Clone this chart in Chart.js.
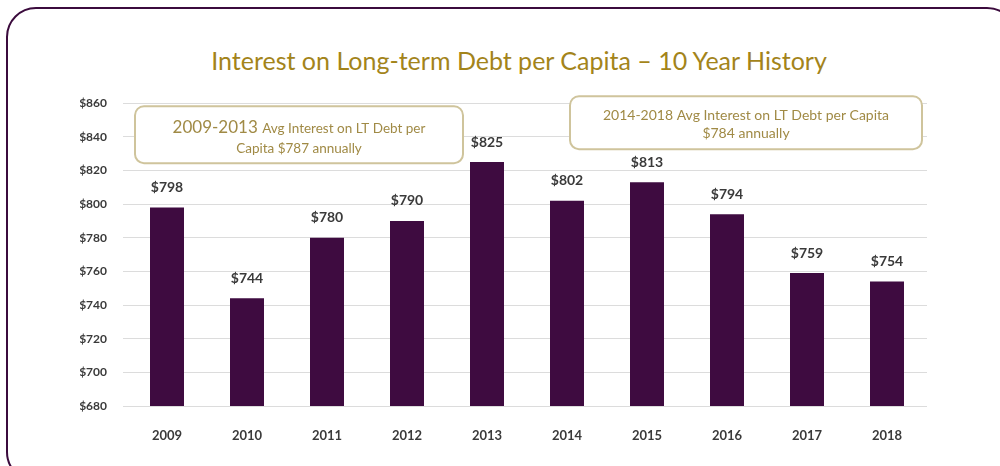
<!DOCTYPE html>
<html lang="en">
<head>
    <meta charset="UTF-8">
    <title>Interest on Long-term Debt per Capita</title>
    <script src="https://cdn.jsdelivr.net/npm/chart.js"></script>
    <style>
        body { margin: 0; background: #fff; width: 1000px; height: 466px; overflow: hidden; position: relative; }
        .frame { position: absolute; left: 6px; top: 7px; width: 1007px; height: 471px; border: 2px solid #3b0b3d; border-radius: 30px; }
        .title { position: absolute; left: 519px; top: 45px; transform: translateX(-50%); white-space: nowrap;
                 font-family: Lato, "Open Sans", sans-serif; font-size: 25px; color: #a3841a; }
        .chart-box { position: absolute; left: 80px; top: 80px; width: 870px; height: 375px; filter: blur(0.6px); }
    </style>
</head>
<body>
    <div class="frame"></div>
    <div class="title">Interest on Long-term Debt per Capita – 10 Year History</div>
    <div class="chart-box"><canvas id="debtChart"></canvas></div>

    <script>
        // Data
        const years = ['2009', '2010', '2011', '2012', '2013', '2014', '2015', '2016', '2017', '2018'];
        const interestPerCapita = [798, 744, 780, 790, 825, 802, 813, 794, 759, 754];
        const yTicks = [680, 700, 720, 740, 760, 780, 800, 820, 840, 860];

        const barColor = '#3e0b40';
        const textColor = '#3a3a3a';
        const noteColor = '#a08a45';
        const noteBorder = '#cfc49c';

        // Value labels above each bar
        const valueLabels = {
            id: 'valueLabels',
            afterDatasetsDraw(chart) {
                const ctx = chart.ctx;
                const meta = chart.getDatasetMeta(0);
                ctx.save();
                ctx.font = 'bold 14px Lato, sans-serif';
                ctx.fillStyle = textColor;
                ctx.textAlign = 'center';
                ctx.textBaseline = 'middle';
                meta.data.forEach((bar, i) => {
                    ctx.fillText('$' + interestPerCapita[i], bar.x, bar.y - 20);
                });
                ctx.restore();
            }
        };

        function roundBox(ctx, x, y, w, h, r) {
            ctx.beginPath();
            ctx.roundRect(x, y, w, h, r);
            ctx.fillStyle = '#fff';
            ctx.fill();
            ctx.lineWidth = 2;
            ctx.strokeStyle = noteBorder;
            ctx.stroke();
        }

        // Two period-average notes
        const notes = {
            id: 'notes',
            afterDraw(chart) {
                const ctx = chart.ctx;
                const a = chart.chartArea;
                const big = '17px Lato, sans-serif';
                const small = '13.5px Lato, sans-serif';
                ctx.save();
                ctx.textBaseline = 'middle';

                // 2009-2013 note
                roundBox(ctx, a.left + 8, a.top + 3, 328, 57, 9);
                ctx.fillStyle = noteColor;
                const p1 = '2009-2013 ';
                const p2 = 'Avg Interest on LT Debt per';
                ctx.font = big;
                const w1 = ctx.measureText(p1).width;
                ctx.font = small;
                const w2 = ctx.measureText(p2).width;
                const x0 = a.left + 8 + 164 - (w1 + w2) / 2;
                ctx.textAlign = 'left';
                ctx.font = big;
                ctx.fillText(p1, x0, a.top + 24);
                ctx.font = small;
                ctx.fillText(p2, x0 + w1, a.top + 25);
                ctx.textAlign = 'center';
                ctx.fillText('Capita $787 annually', a.left + 8 + 164, a.top + 45);

                // 2014-2018 note
                roundBox(ctx, a.left + 443, a.top - 7, 352, 53, 9);
                ctx.fillStyle = noteColor;
                ctx.font = '14px Lato, sans-serif';
                ctx.fillText('2014-2018 Avg Interest on LT Debt per Capita', a.left + 443 + 176, a.top + 12);
                ctx.fillText('$784 annually', a.left + 443 + 176, a.top + 30);
                ctx.restore();
            }
        };

        new Chart(document.getElementById('debtChart'), {
            type: 'bar',
            data: {
                labels: years,
                datasets: [{
                    data: interestPerCapita,
                    backgroundColor: barColor,
                    borderWidth: 0,
                    barPercentage: 0.85,
                    categoryPercentage: 0.5
                }]
            },
            options: {
                responsive: true,
                maintainAspectRatio: false,
                animation: false,
                layout: { padding: { top: 12, right: 23 } },
                plugins: {
                    legend: { display: false },
                    tooltip: { enabled: false }
                },
                scales: {
                    y: {
                        min: 680,
                        max: 860,
                        afterBuildTicks: s => { s.ticks = yTicks.map(v => ({ value: v })); },
                        afterFit: s => { s.width = 47; },
                        border: { display: false },
                        grid: { color: '#dcdcdc', tickLength: 4, tickColor: '#dcdcdc' },
                        ticks: {
                            padding: 16,
                            color: textColor,
                            font: { family: 'Lato', size: 12, weight: 'bold' },
                            callback: v => '$' + v
                        }
                    },
                    x: {
                        afterFit: s => { s.height = 49; },
                        border: { display: false },
                        grid: { display: false },
                        ticks: {
                            padding: 14,
                            color: textColor,
                            font: { family: 'Lato', size: 13, weight: 'bold' }
                        }
                    }
                }
            },
            plugins: [valueLabels, notes]
        });
    </script>
</body>
</html>
